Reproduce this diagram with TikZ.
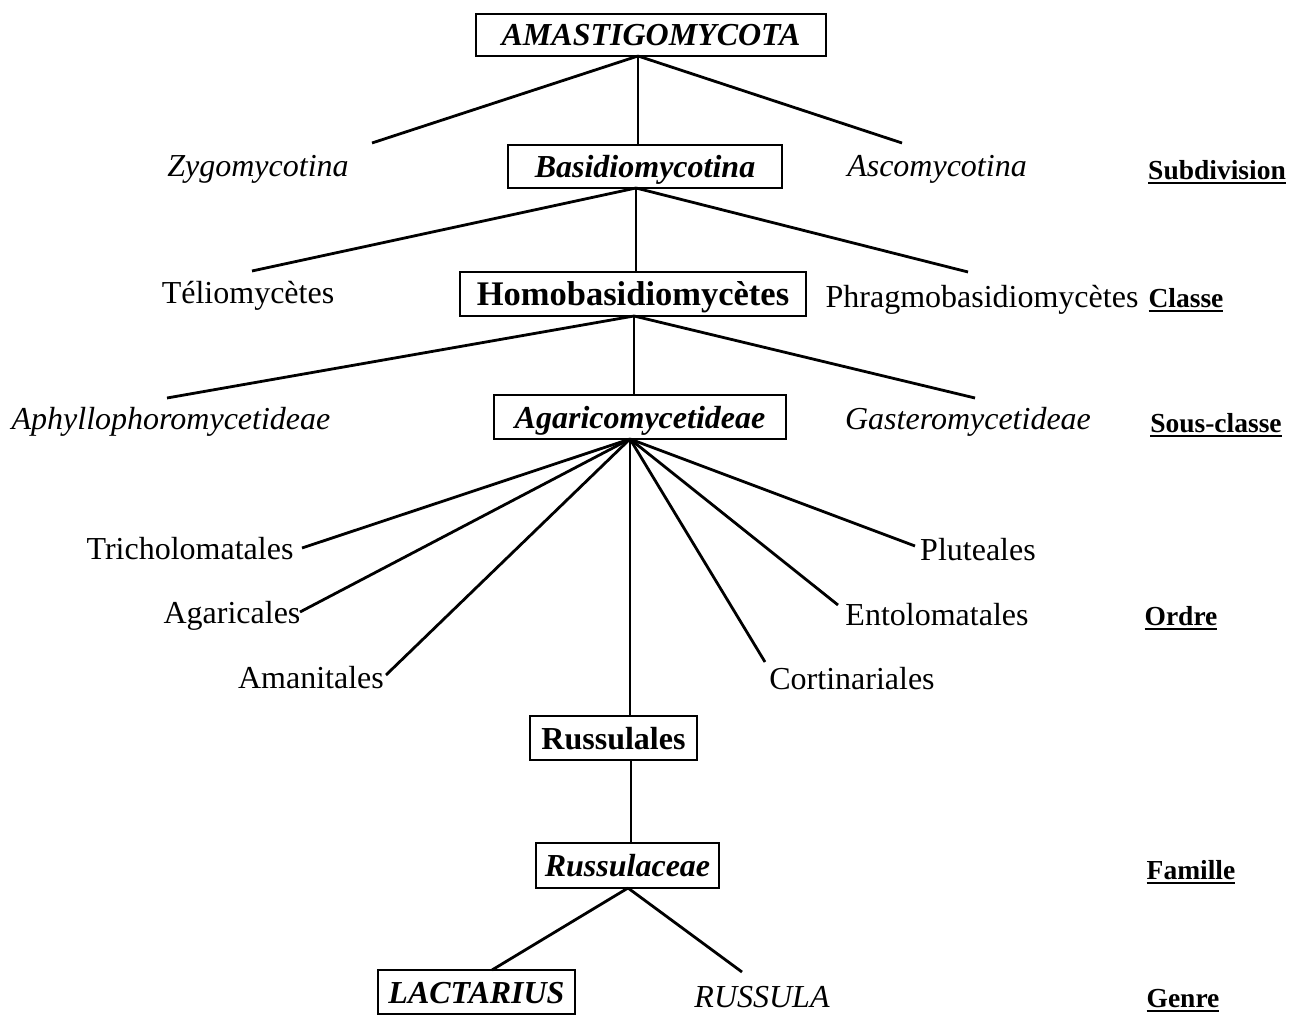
\documentclass[tikz,border=0pt]{standalone}
\usepackage{fontspec}
\setmainfont{Liberation Serif}
\begin{document}
\begin{tikzpicture}[x=1pt,y=-1pt,
  every node/.style={inner sep=0pt,outer sep=0pt,text height=22pt,text depth=0pt,font=\fontsize{32}{36}\selectfont},
  taxbox/.style={draw,line width=2.6pt,align=center},
  rank/.style={font=\fontsize{27.5}{32}\selectfont\bfseries,text height=19pt},
  uline/.style={line width=2.2pt},
  link/.style={line width=2.8pt}]
\useasboundingbox (0,0) rectangle (1298,1016);
% boxes
\node[taxbox,minimum width=350,minimum height=42] (amast) at (651,35) {\bfseries\itshape AMASTIGOMYCOTA};
\node[taxbox,minimum width=274,minimum height=43] (basid) at (645,166.5) {\bfseries\itshape Basidiomycotina};
\node[taxbox,minimum width=346,minimum height=44,font=\fontsize{34.5}{38}\selectfont,text height=23pt] (homo) at (633,294) {\bfseries Homobasidiomycètes};
\node[taxbox,minimum width=292,minimum height=44] (agar) at (640,417) {\bfseries\itshape Agaricomycetideae};
\node[taxbox,minimum width=167,minimum height=44] (rusales) at (613.5,738) {\bfseries Russulales};
\node[taxbox,minimum width=183,minimum height=45] (rusceae) at (627.5,865.5) {\bfseries\itshape Russulaceae};
\node[taxbox,minimum width=197,minimum height=44] (lact) at (476.5,992) {\bfseries\itshape LACTARIUS};
% plain labels
\node (zygo) at (258,166) {\itshape Zygomycotina};
\node (asco) at (937,166) {\itshape Ascomycotina};
\node (telio) at (248,293) {Téliomycètes};
\node (phrag) at (982,296) {Phragmobasidiomycètes};
\node (aphyl) at (171,418) {\itshape Aphyllophoromycetideae};
\node (gaster) at (968,418) {\itshape Gasteromycetideae};
\node (tricho) at (190,548) {Tricholomatales};
\node (agari) at (232,612) {Agaricales};
\node (amani) at (311,677) {Amanitales};
\node (plut) at (978,549) {Pluteales};
\node (entol) at (937,614) {Entolomatales};
\node (cortin) at (852,678) {Cortinariales};
\node (russula) at (762,996) {\itshape RUSSULA};
% rank labels
\node[rank] (subdiv) at (1217,170) {Subdivision};
\node[rank] (classe) at (1186,298) {Classe};
\node[rank] (sousc) at (1216,423) {Sous-classe};
\node[rank] (ordre) at (1181,616) {Ordre};
\node[rank] (famille) at (1191,870) {Famille};
\node[rank] (genre) at (1183,998) {Genre};
\foreach \r in {subdiv,classe,sousc,ordre,famille,genre}
  \draw[uline] ([yshift=-3.5pt]\r.south west) -- ([yshift=-3.5pt]\r.south east);
% connector points
\coordinate (a1) at (amast.south -| 638,0);
\coordinate (a2) at (basid.south -| 636,0);
\coordinate (a3) at (homo.south -| 634,0);
\coordinate (a4) at (agar.south -| 630,0);
\coordinate (a5) at (rusales.south -| 631,0);
\coordinate (a6) at (rusceae.south -| 628,0);
\coordinate (zygoE) at (372,143);
\coordinate (ascoE) at (902,143);
\coordinate (telioE) at (252,271);
\coordinate (phragE) at (968,272);
\coordinate (aphylE) at (167,398);
\coordinate (gasterE) at (975,398);
\coordinate (trichoE) at (302,548);
\coordinate (agariE) at (300,612);
\coordinate (amaniE) at (386,675);
\coordinate (plutE) at (915,546);
\coordinate (entolE) at (838,605);
\coordinate (cortinE) at (765,662);
\coordinate (lactE) at (492,970);
\coordinate (russulaE) at (742,972);
% connectors
\draw[link] (a1) -- (zygoE);
\draw[link] (a1) -- (a1 |- basid.north);
\draw[link] (a1) -- (ascoE);
\draw[link] (a2) -- (telioE);
\draw[link] (a2) -- (a2 |- homo.north);
\draw[link] (a2) -- (phragE);
\draw[link] (a3) -- (aphylE);
\draw[link] (a3) -- (a3 |- agar.north);
\draw[link] (a3) -- (gasterE);
\draw[link] (a4) -- (trichoE);
\draw[link] (a4) -- (agariE);
\draw[link] (a4) -- (amaniE);
\draw[link] (a4) -- (a4 |- rusales.north);
\draw[link] (a4) -- (cortinE);
\draw[link] (a4) -- (entolE);
\draw[link] (a4) -- (plutE);
\draw[link] (a5) -- (a5 |- rusceae.north);
\draw[link] (a6) -- (lactE);
\draw[link] (a6) -- (russulaE);
\end{tikzpicture}
\end{document}
